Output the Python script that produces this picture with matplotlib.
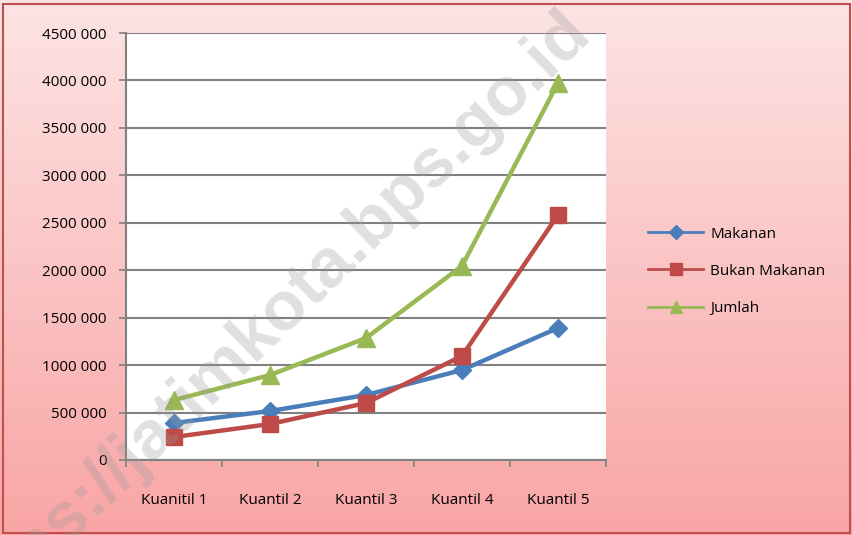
import numpy as np
import matplotlib
matplotlib.use("Agg")
import matplotlib.pyplot as plt
from matplotlib.patches import Rectangle
from matplotlib.lines import Line2D

categories = ["Kuanitil 1", "Kuantil 2", "Kuantil 3", "Kuantil 4", "Kuantil 5"]
makanan = [390000, 516000, 685000, 948000, 1391000]
bukan_makanan = [242000, 379000, 600000, 1096000, 2582000]
jumlah = [632000, 895000, 1285000, 2044000, 3973000]
yticks = [0, 500000, 1000000, 1500000, 2000000, 2500000, 3000000, 3500000, 4000000, 4500000]
ylabels = ["0", "500 000", "1000 000", "1500 000", "2000 000", "2500 000",
           "3000 000", "3500 000", "4000 000", "4500 000"]

plt.rcParams['font.family'] = ['Open Sans', 'DejaVu Sans']

fig = plt.figure(figsize=(8.53, 5.35), dpi=100)

# pink gradient background
bg = fig.add_axes([0, 0, 1, 1], zorder=-2)
grad = np.linspace(0, 1, 256).reshape(-1, 1)
top = np.array([253, 228, 228]) / 255
bot = np.array([249, 165, 165]) / 255
img = top + (bot - top) * grad[:, :, None]
bg.imshow(img, aspect="auto", extent=[0, 1, 0, 1])
bg.add_patch(Rectangle((0.004, 0.004), 0.992, 0.988, fill=False, edgecolor="#c0504d", lw=1.5))
bg.set_xlim(0, 1)
bg.set_ylim(0, 1)
bg.axis("off")

ax = fig.add_axes([0.1477, 0.1402, 0.5627, 0.7981])
ax.set_facecolor("white")
x = np.arange(len(categories))

ax.plot(x, makanan, color="#4a7ebb", lw=3.2, marker="D", ms=9, zorder=3)
ax.plot(x, bukan_makanan, color="#be4b48", lw=3.2, marker="s", ms=12, zorder=3)
ax.plot(x, jumlah, color="#98b954", lw=3.2, marker="^", ms=13, zorder=3)

ax.set_xlim(-0.5, len(categories) - 0.5)
ax.set_ylim(0, 4500000)
ax.set_yticks(yticks)
ax.set_yticklabels(ylabels, fontsize=11)
ax.set_xticks(x)
ax.set_xticklabels(categories, fontsize=11)
ax.set_xticks(np.arange(-0.5, len(categories)), minor=True)
ax.tick_params(axis="x", which="major", length=0, pad=24)
ax.tick_params(axis="x", which="minor", length=5, color="#808080", width=1.2)
ax.tick_params(axis="y", length=5, color="#808080", width=1.2, pad=9)
ax.grid(axis="y", color="#808080", lw=1.5)
ax.set_axisbelow(True)
for s in ["top", "right"]:
    ax.spines[s].set_visible(False)
for s in ["left", "bottom"]:
    ax.spines[s].set_color("#808080")
    ax.spines[s].set_linewidth(1.5)

handles = [
    Line2D([], [], color="#4a7ebb", lw=2, marker="D", ms=7),
    Line2D([], [], color="#be4b48", lw=2, marker="s", ms=9),
    Line2D([], [], color="#98b954", lw=2, marker="^", ms=9),
]
fig.legend(handles, ["Makanan", "Bukan Makanan", "Jumlah"], loc="center left",
           bbox_to_anchor=(0.744, 0.493), frameon=False, fontsize=11,
           labelspacing=1.45, handlelength=3.6, handletextpad=0.45)

fig.text(0.68, 0.96, "https://jatimkota.bps.go.id", fontsize=50, fontweight="bold",
         family="Liberation Sans", color="#9a9a9a", alpha=0.3, rotation=44,
         rotation_mode="anchor", ha="right", va="center", zorder=10)

fig.savefig("out.png", dpi=100)
